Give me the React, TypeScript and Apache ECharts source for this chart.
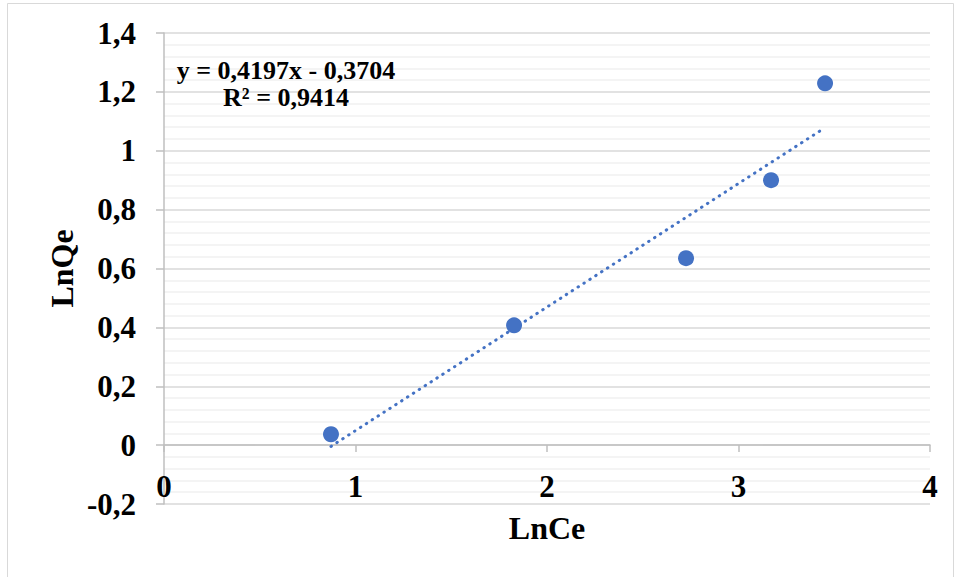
import React, { useEffect, useRef } from "react";
import * as echarts from "echarts";

const lnCe = [0.872, 1.828, 2.726, 3.17, 3.452];
const lnQe = [0.037, 0.407, 0.635, 0.9, 1.229];
const slope = 0.4197;
const intercept = -0.3704;
const equationText = "y = 0,4197x - 0,3704";
const r2Text = "R² = 0,9414";
const xTitle = "LnCe";
const yTitle = "LnQe";

const FONT = '"Liberation Serif", "Times New Roman", serif';
const fmt = (v: number) => String(Math.round(v * 10) / 10).replace(".", ",");

export default function App() {
  const ref = useRef<HTMLDivElement>(null);
  useEffect(() => {
    if (!ref.current) return;
    const chart = echarts.init(ref.current, undefined, { renderer: "svg" });
    const points = lnCe.map((x, i) => [x, lnQe[i]]);
    const xMin = Math.min(...lnCe);
    const xMax = Math.max(...lnCe);
    const trend = [
      [xMin, slope * xMin + intercept],
      [xMax, slope * xMax + intercept],
    ];
    chart.setOption({
      animation: false,
      backgroundColor: "#ffffff",
      grid: { left: 164, top: 33, right: 28, bottom: 73, containLabel: false, outerBoundsMode: "none" },
      xAxis: {
        type: "value",
        min: 0,
        max: 4,
        interval: 1,
        position: "bottom",
        offset: -59,
        name: xTitle,
        nameLocation: "middle",
        nameGap: 67,
        nameMoveOverlap: false,
        nameTextStyle: { fontFamily: FONT, fontWeight: "bold", fontSize: 32, color: "#000" },
        axisLine: { show: true, onZero: false, lineStyle: { color: "#bfbfbf", width: 1.5 } },
        axisTick: { show: true, length: 7, lineStyle: { color: "#bfbfbf", width: 1.5 } },
        axisLabel: {
          margin: 26,
          fontFamily: FONT,
          fontWeight: "bold",
          fontSize: 31,
          color: "#000",
          formatter: (v: number) => fmt(v),
        },
        splitLine: { show: false },
      },
      yAxis: {
        type: "value",
        min: -0.2,
        max: 1.4,
        interval: 0.2,
        name: yTitle,
        nameLocation: "middle",
        nameGap: 86,
        nameRotate: 90,
        nameMoveOverlap: false,
        nameTextStyle: { fontFamily: FONT, fontWeight: "bold", fontSize: 32, color: "#000" },
        axisLine: { show: true, lineStyle: { color: "#bfbfbf", width: 1.5 } },
        axisTick: { show: true, length: 8, lineStyle: { color: "#bfbfbf", width: 1.5 } },
        axisLabel: {
          margin: 28,
          fontFamily: FONT,
          fontWeight: "bold",
          fontSize: 31,
          color: "#000",
          formatter: (v: number) => fmt(v),
        },
        splitLine: { show: true, lineStyle: { color: "#d9d9d9", width: 1.5 } },
        minorTick: { show: false, splitNumber: 5 },
        minorSplitLine: { show: true, lineStyle: { color: "#f0f0f0", width: 1.5 } },
      },
      series: [
        {
          type: "line",
          data: trend,
          showSymbol: false,
          symbol: "none",
          lineStyle: { color: "#4472C4", width: 3, type: [0.5, 6.5], cap: "round" },
          z: 2,
        },
        {
          type: "scatter",
          data: points,
          symbolSize: 16,
          itemStyle: { color: "#4472C4", opacity: 1 },
          z: 3,
        },
      ],
      graphic: [
        {
          type: "rect",
          shape: { x: 7.5, y: 3.5, width: 946, height: 620 },
          style: { fill: "none", stroke: "#d9d9d9", lineWidth: 1 },
          z: -1,
        },
        {
          type: "text",
          x: 286,
          y: 84,
          z: 100,
          style: {
            text: equationText + "\n" + r2Text,
            fontFamily: FONT,
            fontWeight: "bold",
            fontSize: 26,
            lineHeight: 27,
            fill: "#000",
            align: "center",
            verticalAlign: "middle",
          },
        },
      ],
    });
    return () => chart.dispose();
  }, []);
  return <div ref={ref} style={{ width: 958, height: 577, position: "absolute", left: 0, top: 0 }} />;
}
